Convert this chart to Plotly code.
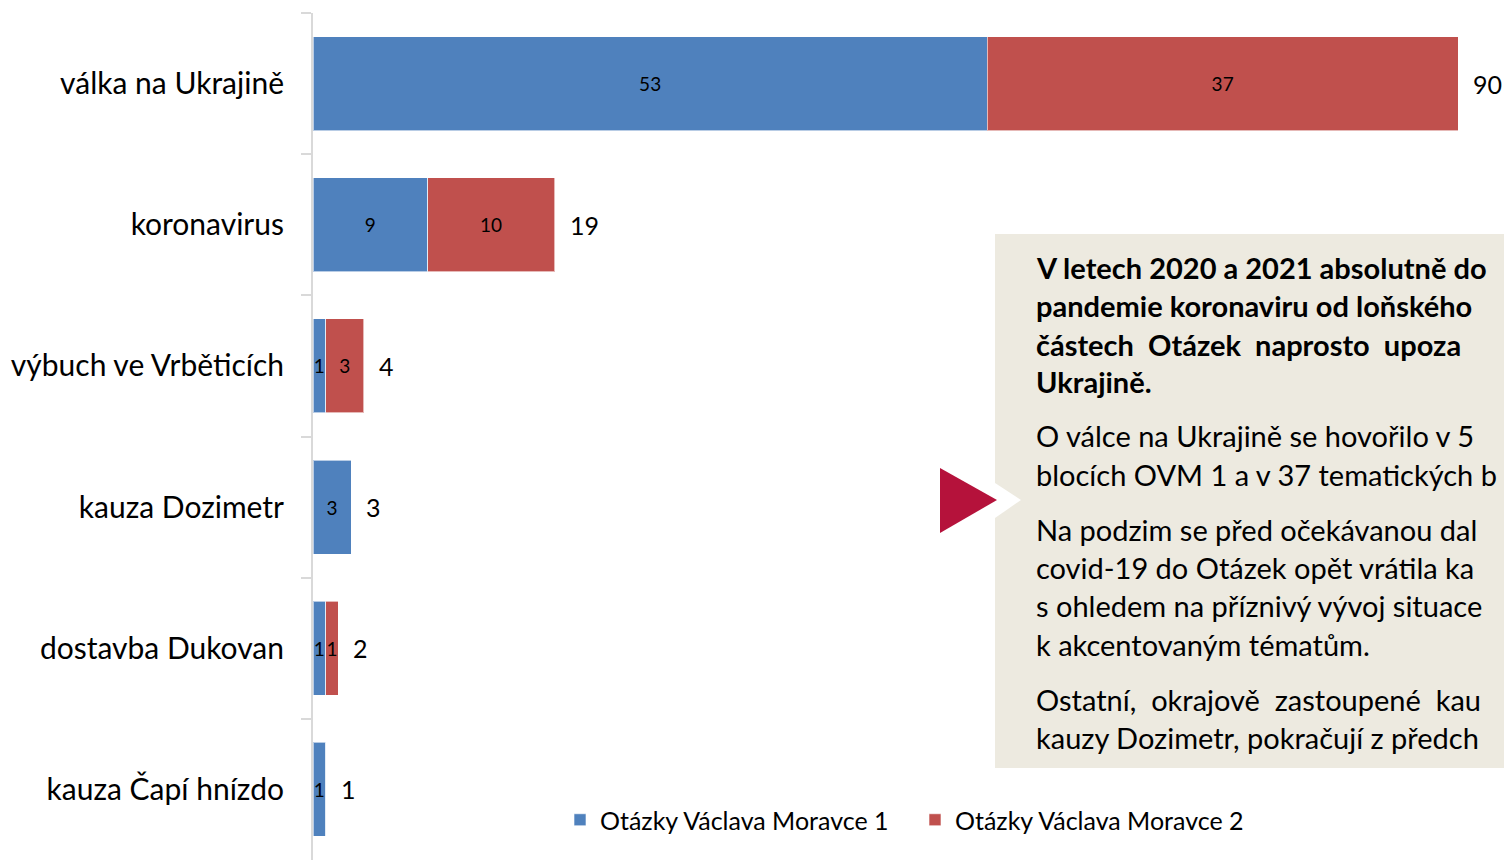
import plotly.graph_objects as go

# ---- data ----
categories = ["válka na Ukrajině", "koronavirus", "výbuch ve Vrběticích",
              "kauza Dozimetr", "dostavba Dukovan", "kauza Čapí hnízdo"]
ovm1 = [53, 9, 1, 3, 1, 1]
ovm2 = [37, 10, 3, 0, 1, 0]
series_names = ["Otázky Václava Moravce 1", "Otázky Václava Moravce 2"]

bold_lines = ["V letech 2020 a 2021 absolutně do",
              "pandemie koronaviru od loňského",
              "částech  Otázek  naprosto  upoza",
              "Ukrajině."]
normal_lines = ["O válce na Ukrajině se hovořilo v 5",
                "blocích OVM 1 a v 37 tematických b",
                "Na podzim se před očekávanou dal",
                "covid-19 do Otázek opět vrátila ka",
                "s ohledem na příznivý vývoj situace",
                "k akcentovaným tématům.",
                "Ostatní,  okrajově  zastoupené  kau",
                "kauzy Dozimetr, pokračují z předch"]

totals = [a + b for a, b in zip(ovm1, ovm2)]

# ---- layout helpers ----
W, H = 1504, 860
L, T, R, B = 313, 13, 0, 0
FONT = "Lato"

def px(x):
    return (x - L) / (W - L - R)

def py(y):
    return (H - B - y) / (H - T - B)

BLUE = "#4F81BD"
RED = "#C0504D"

fig = go.Figure()
for vals, name, col in [(ovm1, series_names[0], BLUE), (ovm2, series_names[1], RED)]:
    fig.add_trace(go.Bar(
        y=categories, x=vals, name=name, orientation="h",
        marker=dict(color=col, line=dict(color="rgba(255,255,255,0.6)", width=1)),
        text=[str(v) if v else "" for v in vals],
        textposition="inside", insidetextanchor="middle", textangle=0,
        textfont=dict(family=FONT, size=19, color="black"),
    ))

annotations = []
for cat, tot in zip(categories, totals):
    annotations.append(dict(x=tot, y=cat, xref="x", yref="y", text=str(tot),
                            showarrow=False, xanchor="left", xshift=13,
                            font=dict(family=FONT, size=25, color="black")))

bold_y = [267, 305, 344, 381]
normal_y = [436, 475, 529, 567, 606, 644, 699, 737]
for txt, yy in zip(bold_lines, bold_y):
    annotations.append(dict(x=px(1034), y=py(yy), xref="paper", yref="paper",
                            text="<b>" + txt + "</b>", showarrow=False,
                            xanchor="left", yanchor="middle",
                            font=dict(family=FONT, size=29, color="black")))
for txt, yy in zip(normal_lines, normal_y):
    annotations.append(dict(x=px(1034), y=py(yy), xref="paper", yref="paper",
                            text=txt, showarrow=False,
                            xanchor="left", yanchor="middle",
                            font=dict(family=FONT, size=29, color="black")))

shapes = [
    dict(type="rect", xref="paper", yref="paper", x0=px(995), x1=px(1520),
         y0=py(768), y1=py(234), fillcolor="#EDEAE0", line=dict(width=0), layer="below"),
    dict(type="path", xref="paper", yref="paper",
         path=f"M {px(995)},{py(483)} L {px(1021)},{py(500)} L {px(995)},{py(518)} Z",
         fillcolor="white", line=dict(width=0)),
    dict(type="path", xref="paper", yref="paper",
         path=f"M {px(940)},{py(468)} L {px(997)},{py(500)} L {px(940)},{py(533)} Z",
         fillcolor="#B5123B", line=dict(width=0)),
]

fig.update_layout(
    width=W, height=H, barmode="stack", bargap=0.335,
    margin=dict(l=L, r=R, t=T, b=B, pad=0),
    paper_bgcolor="white", plot_bgcolor="white",
    font=dict(family=FONT, color="black"),
    uniformtext=dict(minsize=19, mode="show"),
    xaxis=dict(range=[0, (W - L - R) / ((1458 - 313) / 90)], visible=False, fixedrange=True),
    yaxis=dict(autorange="reversed", showline=True, linecolor="#D9D9D9", linewidth=2,
               ticks="outside", tickson="boundaries", ticklen=10, tickcolor="#D9D9D9",
               tickwidth=2, tickfont=dict(family=FONT, size=30, color="black"),
               ticklabelstandoff=21, showgrid=False, zeroline=False),
    legend=dict(orientation="h", x=px(560), y=py(820), xanchor="left", yanchor="middle",
                font=dict(family=FONT, size=25, color="black"), bgcolor="rgba(0,0,0,0)",
                traceorder="normal", entrywidth=310, entrywidthmode="pixels"),
    annotations=annotations, shapes=shapes,
)

fig.write_html("out.html", config={"displayModeBar": False},
               post_script="document.body.style.margin='0';")
